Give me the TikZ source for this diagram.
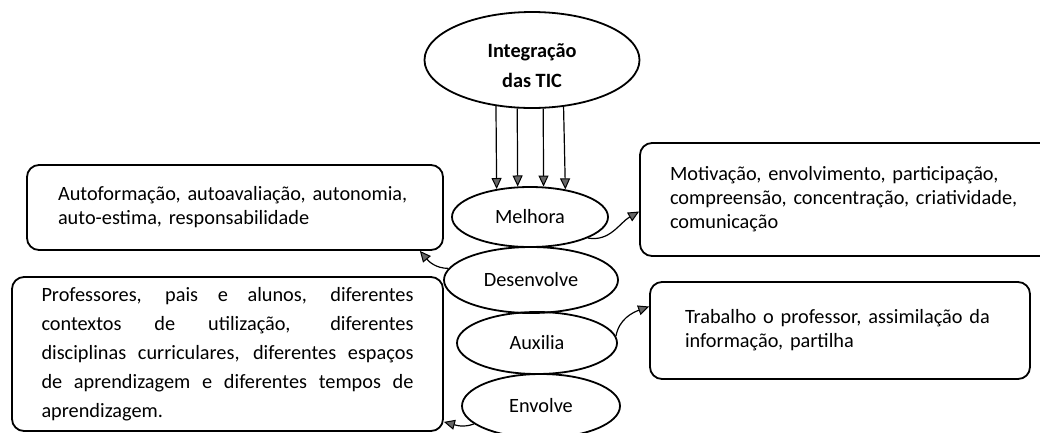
\documentclass[tikz,border=0pt]{standalone}
\usepackage{fontspec}
\setmainfont{Carlito}
\usetikzlibrary{shapes.geometric,arrows.meta}
\begin{document}
\begin{tikzpicture}[x=1pt,y=-1pt,
  every node/.style={font=\fontsize{20.3}{24}\selectfont},
  oval/.style={draw, ellipse, line width=1.8pt, inner sep=0pt},
  box/.style={draw, rectangle, rounded corners=12pt, line width=1.8pt, inner sep=0pt, align=left},
  link/.style={line width=1.2pt, -{Triangle[length=11pt,width=10pt,fill=gray!80!black,line width=1pt]}},
]
\useasboundingbox (0,0) rectangle (1040,432);
\clip (0,0) rectangle (1040,432);
\fill[white] (0,0) rectangle (1040,432);

\node[oval, minimum width=215pt, minimum height=96pt] (tic) at (532,60) {};
\node[align=center, font=\bfseries\fontsize{20.3}{30}\selectfont] (ticlabel) at (532,66) {Integração\\das TIC};

\node[oval, minimum width=156pt, minimum height=60pt] (mel) at (530,217) {Melhora};
\node[oval, minimum width=174pt, minimum height=66pt] (des) at (531,280) {Desenvolve};
\node[oval, minimum width=160pt, minimum height=62pt] (aux) at (537,343) {Auxilia};
\node[oval, minimum width=158pt, minimum height=64pt] (env) at (541,406) {Envolve};

\draw[link] (tic.232.4) -- (mel.140.5);
\draw[link] (tic.253.6) -- (mel.112.1);
\draw[link] (tic.283.0) -- (mel.66.3);
\draw[link] (tic.304.9) -- (mel.38.5);

\node[box, minimum width=416pt, minimum height=85pt, text width=354pt] (abox) at (235,207.5)
  {Autoformação, autoavaliação, autonomia,\\auto-estima, responsabilidade};
\node[box, minimum width=460pt, minimum height=113pt, text width=400pt] (mbox) at (870,199.5)
  {Motivação, envolvimento, participação,\\compreensão, concentração, criatividade,\\comunicação};
\node[box, minimum width=380pt, minimum height=97pt, text width=310pt] (tbox) at (840,330.5)
  {Trabalho o professor, assimilação da\\informação, partilha};
\node[box, minimum width=431pt, minimum height=154pt, text width=372pt, align=justify,
      font=\fontsize{20.3}{29}\selectfont] (pbox) at (227.5,354)
  {Professores, pais e alunos, diferentes\linebreak contextos de utilização, diferentes\linebreak disciplinas curriculares, diferentes espaços\linebreak de aprendizagem e diferentes tempos de\linebreak aprendizagem.};

\draw[link] (mel.-20) to[out=-10,in=210] ([yshift=-12pt]mbox.west);
\draw[link] (des.172) to[out=180,in=-50] ([xshift=-24pt]abox.south east);
\draw[link] (aux.5) to[out=80,in=200] ([yshift=24pt]tbox.west);
\draw[link] (env.195) to[out=200,in=-15] ([yshift=10pt]pbox.south east);
\end{tikzpicture}
\end{document}
